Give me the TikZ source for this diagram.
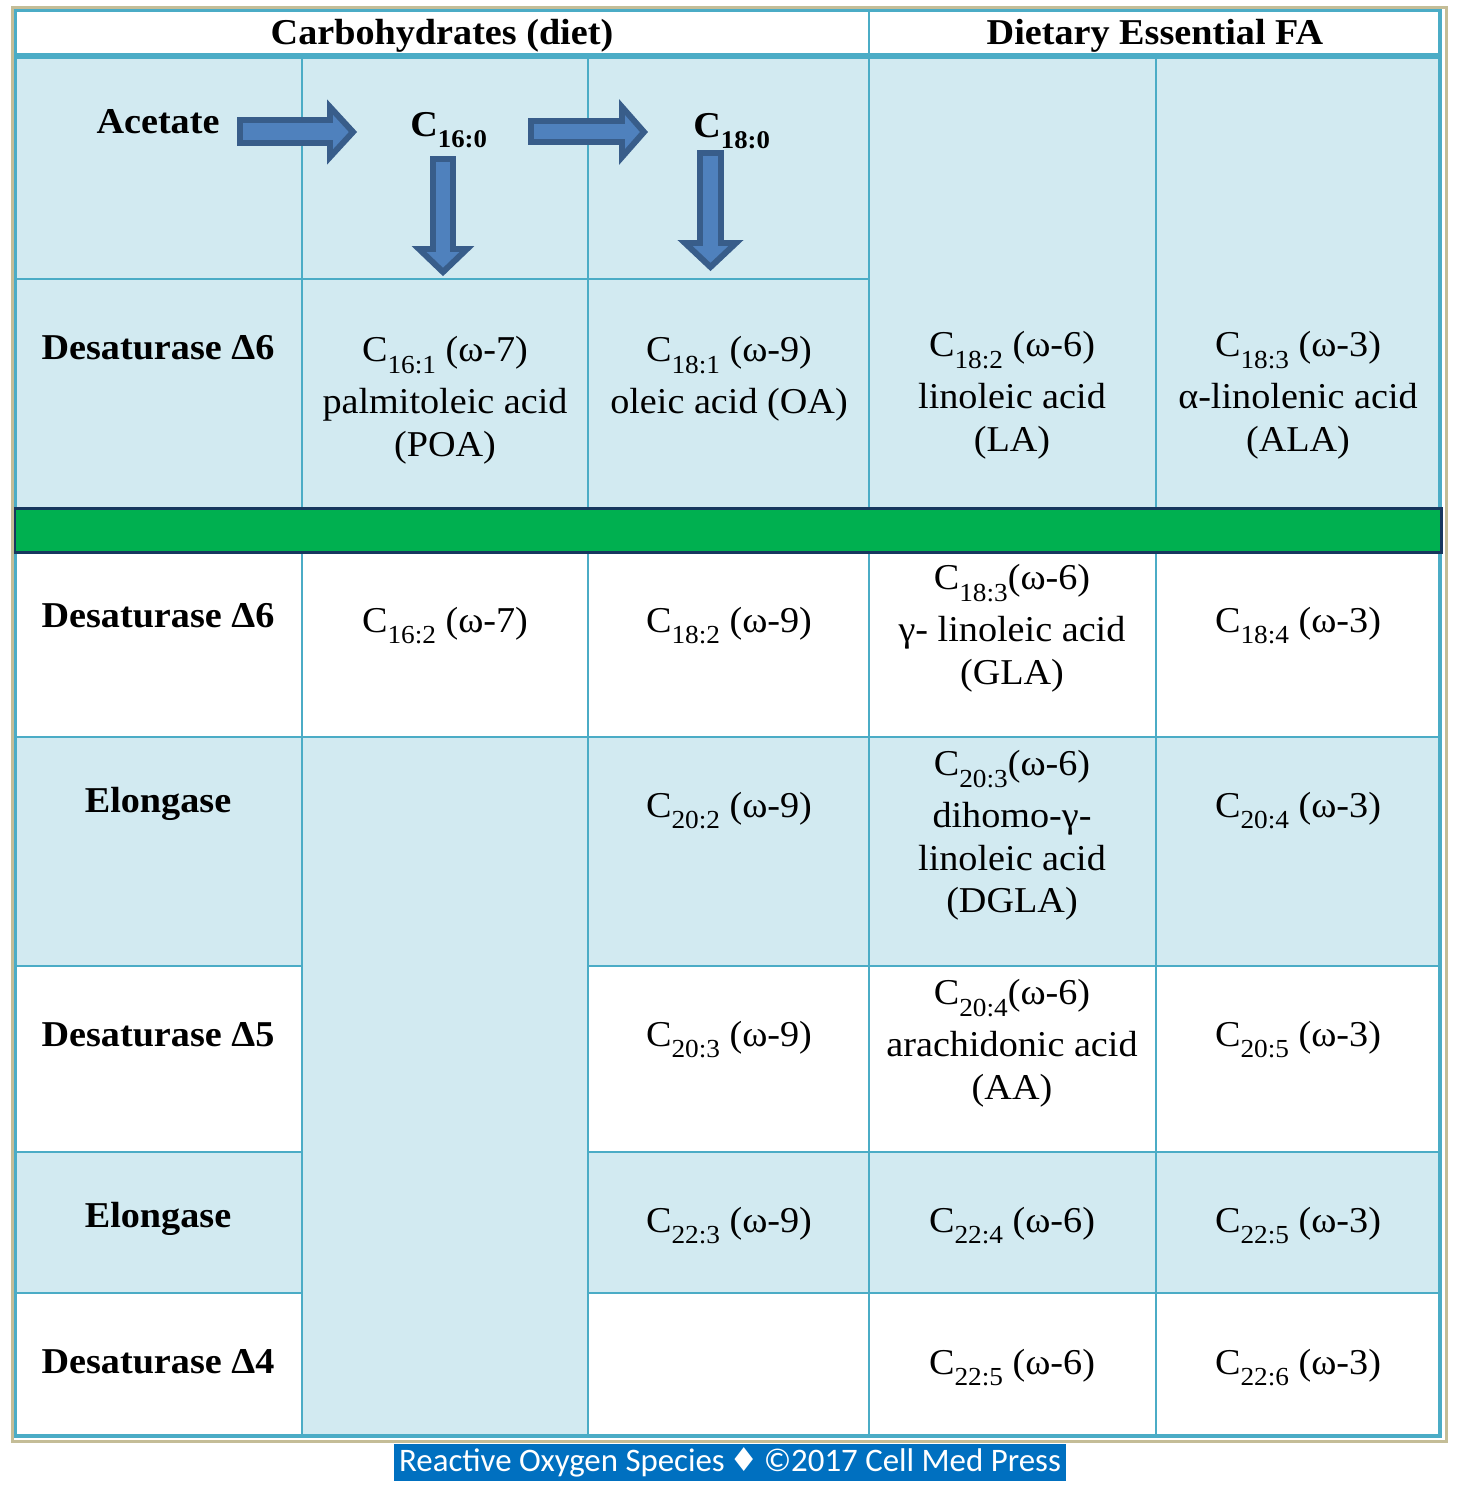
\documentclass[tikz,border=0pt]{standalone}
\usepackage{fontspec}
\usepackage{tikz}
\usepackage{xcolor}
\usetikzlibrary{calc}
\setmainfont{Liberation Serif}[FakeStretch=1.05]
\newfontfamily\capfont{Carlito}
\newfontfamily\symfont{DejaVu Sans}
\definecolor{tlinec}{HTML}{4BACC6}
\definecolor{tfillc}{HTML}{D2EAF1}
\definecolor{tanframe}{HTML}{C4BD97}
\definecolor{barfill}{HTML}{00B050}
\definecolor{barline}{HTML}{17375E}
\definecolor{arrowfill}{HTML}{4F81BD}
\definecolor{arrowline}{HTML}{385D8A}
\definecolor{capfill}{HTML}{0070C0}
\colorlet{tline}{tlinec}
\colorlet{tfill}{tfillc}
\newcommand{\fa}[1]{% fatty acid
C\raisebox{-6.8pt}{\fontsize{14.8}{14.8}\selectfont #1}}
\newcommand{\fab}[1]{% bold, top row
C\raisebox{-6.5pt}{\fontsize{14.5}{14.5}\selectfont #1}}
\tikzstyle{cell} = [
    inner sep=0pt,
    align=center,
    font=\fontsize{20.7}{24.4}\selectfont
    ]
\tikzstyle{one} = [cell, anchor=base]
\tikzstyle{multi} = [cell, anchor=north]
\tikzstyle{lab} = [
    inner sep=0pt,
    anchor=base,
    font=\fontsize{20.7}{24.4}\selectfont\bfseries
    ]
\tikzstyle{grid} = [draw=tline, line width=1.4pt]
\tikzstyle{blockarrow} = [
    fill=arrowfill,
    draw=arrowline,
    line width=3.4pt,
    miter limit=10
    ]

\begin{document}
\begin{tikzpicture}[x=0.02cm, y=-0.02cm]
\useasboundingbox (0,0) rectangle (1462,1485);
\fill[white] (0,0) rectangle (1462,1485);
\draw[tanframe, line width=1.7pt] (12.5,7.5) rectangle (1446.5,1441);
% shaded cells
\fill[tfill] (15,56) rectangle (1441,508);
\fill[tfill] (15,737) rectangle (1441,966);
\fill[tfill] (15,1152) rectangle (1441,1293);
\fill[tfill] (302,737) rectangle (588,1436);
% rules
\foreach \x in {302,588,1156} \draw[grid] (\x,56) -- (\x,1436);
\draw[grid] (869,10.5) -- (869,1436);
\draw[grid] (15,279) -- (869,279);
\draw[grid] (15,737) -- (1441,737);
\foreach \y in {966,1152,1293} {
    \draw[grid] (15,\y) -- (302,\y);
    \draw[grid] (588,\y) -- (1441,\y);
}
\draw[grid, line width=1.8pt] (15.5,10.5) rectangle (1440,1436);
\draw[tline, line width=3.2pt] (15,56) -- (1441,56);
\draw[fill=barfill, draw=barline, line width=1.7pt] (15,508) rectangle (1441,552);

\node[lab] (hcarb) at (442,44) {Carbohydrates (diet)};
\node[lab] (hefa) at (1155,44) {Dietary Essential FA};

\node[lab] (acetate) at (158,133) {Acetate};
\node[lab, anchor=base west] (c16) at (410,136) {\fab{16:0}};
\node[lab, anchor=base west] (c18) at (693,137) {\fab{18:0}};
\draw[blockarrow] (240,120) -- (330,120) -- (330,107) -- (353,132) -- (330,157) -- (330,143) -- (240,143) -- cycle;
\draw[blockarrow] (531,121) -- (622,121) -- (622,107) -- (644,132) -- (622,157) -- (622,142) -- (531,142) -- cycle;
\draw[blockarrow] (433,159) -- (453,159) -- (453,249) -- (467,249) -- (443,272) -- (419,249) -- (433,249) -- cycle;
\draw[blockarrow] (700,153) -- (721,153) -- (721,243) -- (736,243) -- (710.5,267) -- (685,243) -- (700,243) -- cycle;

\node[lab] (desa) at (158,359) {Desaturase Δ6};
\node[lab] (desb) at (158,627) {Desaturase Δ6};
\node[lab] (elona) at (158,812) {Elongase};
\node[lab] (desc) at (158,1046) {Desaturase Δ5};
\node[lab] (elonb) at (158,1227) {Elongase};
\node[lab] (desd) at (158,1373) {Desaturase Δ4};

\node[multi] (poa) at (445,336) {\fa{16:1} (ω-7)\\[5pt] palmitoleic acid\\ (POA)};
\node[multi] (oa) at (729,336) {\fa{18:1} (ω-9)\\[5pt] oleic acid (OA)};
\node[multi] (la) at (1012,331) {\fa{18:2} (ω-6)\\[5pt] linoleic acid\\ (LA)};
\node[multi] (ala) at (1298,331) {\fa{18:3} (ω-3)\\[5pt] α-linolenic acid\\ (ALA)};

\node[one] (c162) at (445,632) {\fa{16:2} (ω-7)};
\node[one] (c182) at (729,632) {\fa{18:2} (ω-9)};
\node[multi] (gla) at (1012,564) {\fa{18:3}(ω-6)\\[5pt] γ- linoleic acid\\ (GLA)};
\node[one] (c184) at (1298,632) {\fa{18:4} (ω-3)};

\node[one] (c202) at (729,817) {\fa{20:2} (ω-9)};
\node[multi] (dgla) at (1012,750) {\fa{20:3}(ω-6)\\[5pt] dihomo-γ-\\ linoleic acid\\ (DGLA)};
\node[one] (c204) at (1298,817) {\fa{20:4} (ω-3)};

\node[one] (c203) at (729,1046) {\fa{20:3} (ω-9)};
\node[multi] (aa) at (1012,979) {\fa{20:4}(ω-6)\\[5pt] arachidonic acid\\ (AA)};
\node[one] (c205) at (1298,1046) {\fa{20:5} (ω-3)};

\node[one] (c223) at (729,1232) {\fa{22:3} (ω-9)};
\node[one] (c224) at (1012,1232) {\fa{22:4} (ω-6)};
\node[one] (c225) at (1298,1232) {\fa{22:5} (ω-3)};

\node[one] (c225b) at (1012,1374) {\fa{22:5} (ω-6)};
\node[one] (c226) at (1298,1374) {\fa{22:6} (ω-3)};

\node[fill=capfill, text=white, inner sep=0pt, minimum width=13.44cm, minimum height=0.74cm,
    font=\capfont\fontsize{18.7}{20}\selectfont] (credit) at (730,1462.5)
    {Reactive Oxygen Species\hspace{-1.5pt} {\symfont ♦}\hspace{-1.5pt} ©2017 Cell Med Press};
\end{tikzpicture}
\end{document}
